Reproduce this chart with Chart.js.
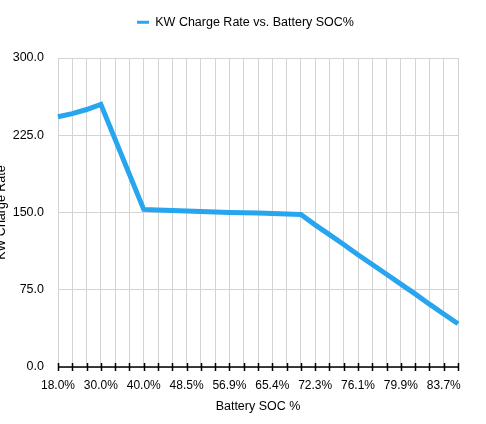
<!DOCTYPE html>
<html>
<head>
<meta charset="utf-8">
<script src="https://cdn.jsdelivr.net/npm/chart.js@4/dist/chart.umd.min.js"></script>
<style>
  html, body { margin: 0; padding: 0; background: #fff; overflow: hidden; }
  #wrap { position: absolute; left: -7px; top: 0; width: 493px; height: 424px; }
</style>
</head>
<body>
<div id="wrap"><canvas id="chart"></canvas></div>
<script>
// SOC categories (%), only every third one is labelled on the axis
const socLabels = [18.0, 22.0, 26.0, 30.0, 33.3, 36.7, 40.0, 42.8, 45.7, 48.5,
  51.3, 54.1, 56.9, 59.7, 62.6, 65.4, 67.7, 70.0, 72.3, 73.6,
  74.8, 76.1, 77.4, 78.6, 79.9, 81.2, 82.4, 83.7, 85.0];

// kW charge rate
const chargeRate = [243, 246, 250, 255, 221, 187, 153, 152.5, 152, 151.5,
  151, 150.5, 150, 149.8, 149.5, 149, 148.5, 148, 138, 128.5,
  119, 109, 99.5, 90, 80.5, 71, 61, 51.5, 42];

const yTicks = [0, 75, 150, 225, 300];

const FONT = "'Liberation Sans', Arial, Helvetica, sans-serif";

// tick marks crossing the x axis line
const crossTicks = {
  id: "crossTicks",
  afterDraw(chart) {
    const x = chart.scales.x;
    const ctx = chart.ctx;
    const y = chart.chartArea.bottom;
    ctx.save();
    ctx.strokeStyle = "#000";
    ctx.lineWidth = 1.5;
    ctx.beginPath();
    x.ticks.forEach((t, i) => {
      const px = Math.round(x.getPixelForTick(i)) + 0.5;
      ctx.moveTo(px, y - 4);
      ctx.lineTo(px, y + 4);
    });
    ctx.moveTo(chart.chartArea.left, y);
    ctx.lineTo(chart.chartArea.right, y);
    ctx.stroke();
    ctx.restore();
  }
};

// extra space under the legend, and legend centred a bit further right
const legendTweak = {
  id: "legendTweak",
  beforeInit(chart) {
    const fit = chart.legend.fit;
    chart.legend.fit = function () {
      fit.call(this);
      this.height += 19.5;
    };
  },
  afterLayout(chart) {
    chart.legend.left += 40;
  }
};

new Chart(document.getElementById("chart"), {
  type: "line",
  data: {
    labels: socLabels.map(v => v.toFixed(1) + "%"),
    datasets: [{
      label: "KW Charge Rate vs. Battery SOC%",
      data: chargeRate,
      borderColor: "#27a5ef",
      backgroundColor: "#27a5ef",
      borderWidth: 5,
      pointRadius: 0,
      tension: 0,
      fill: false
    }]
  },
  options: {
    responsive: true,
    maintainAspectRatio: false,
    animation: false,
    layout: { padding: { top: 0, right: 28, bottom: 0, left: 0 } },
    plugins: {
      legend: {
        labels: {
          color: "#000",
          font: { family: FONT, size: 12.5 },
          boxWidth: 12,
          boxHeight: 3,
          padding: 16,
          generateLabels: chart => Chart.defaults.plugins.legend.labels
            .generateLabels(chart).map(l => ({ ...l, lineWidth: 0 }))
        }
      },
      tooltip: { enabled: false }
    },
    scales: {
      x: {
        grid: { color: "#d3d3d3", drawTicks: false, lineWidth: 1 },
        border: { display: false },
        ticks: {
          autoSkip: false,
          maxRotation: 0,
          color: "#000",
          padding: 11,
          font: { family: FONT, size: 12 },
          callback: function (v, i) {
            return (i % 3 === 0 && i < socLabels.length - 1) ? this.getLabelForValue(v) : "";
          }
        },
        title: {
          display: true,
          text: "Battery SOC %",
          color: "#000",
          font: { family: FONT, size: 12.5 },
          padding: { top: 4, bottom: 10 }
        },
        afterFit: s => { s.height = 57; }
      },
      y: {
        min: 0,
        max: 300,
        afterBuildTicks: s => { s.ticks = yTicks.map(v => ({ value: v })); },
        grid: { color: "#d3d3d3", drawTicks: false },
        border: { display: false },
        ticks: {
          color: "#000",
          padding: 14,
          font: { family: FONT, size: 12.5 },
          callback: v => v.toFixed(1)
        },
        title: {
          display: true,
          text: "KW Charge Rate",
          color: "#000",
          font: { family: FONT, size: 12.5 },
          padding: { top: 1, bottom: 0 }
        },
        afterFit: s => { s.width = 65; }
      }
    }
  },
  plugins: [crossTicks, legendTweak]
});
</script>
</body>
</html>
